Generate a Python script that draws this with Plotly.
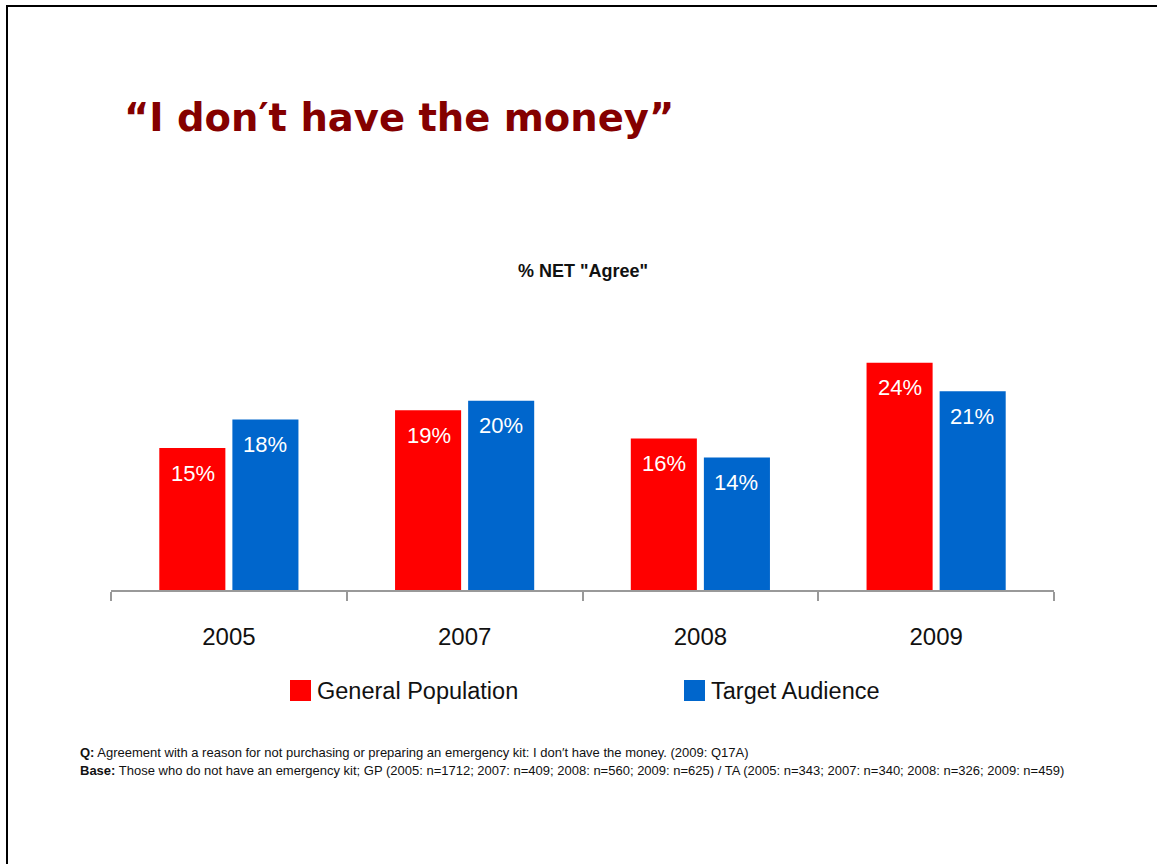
import plotly.graph_objects as go

# Survey results: % NET "Agree" with "I don't have the money"
years = ["2005", "2007", "2008", "2009"]
series_names = ["General Population", "Target Audience"]
general_population = [15, 19, 16, 24]
target_audience = [18, 20, 14, 21]
series_values = [general_population, target_audience]
series_colors = ["#FF0000", "#0066CC"]

NARROW = "Liberation Sans Narrow, Arial Narrow, Liberation Sans, Arial, sans-serif"
WIDE = "DejaVu Sans, Verdana, sans-serif"

# plot-area pixel frame
PL, PR, PT, PB = 111, 1054, 306, 590
W, H = 1157, 864


def px_x(x):
    return (x - PL) / (PR - PL)


def px_y(y):
    return (PB - y) / (PB - PT)


fig = go.Figure()
for name, vals, col in zip(series_names, series_values, series_colors):
    fig.add_trace(go.Bar(
        x=years, y=vals, name=name, marker=dict(color=col, line=dict(width=0)),
        showlegend=False, hoverinfo="skip",
    ))

# value labels placed just inside the top of each bar (category index positions)
offsets = [-36, 36]
for vals, dx in zip(series_values, offsets):
    for i, v in enumerate(vals):
        fig.add_annotation(
            x=i, y=v, xref="x", yref="y", text=f"{v}%", showarrow=False,
            xshift=dx, yshift=-25, yanchor="middle",
            font=dict(family=NARROW, size=22, color="white"),
        )

# legend swatches and names
legend_x = [290, 684]
for name, col, lx in zip(series_names, series_colors, legend_x):
    fig.add_shape(type="rect", xref="paper", yref="paper",
                  x0=px_x(lx), x1=px_x(lx + 21),
                  y0=px_y(701), y1=px_y(680),
                  fillcolor=col, line=dict(width=0))
    fig.add_annotation(xref="paper", yref="paper",
                       x=px_x(lx + 25), y=px_y(690.5),
                       xanchor="left", yanchor="middle", showarrow=False, text=name,
                       font=dict(family=NARROW, size=23.5, color="#111111"))

# slide border (left and top edges)
fig.add_shape(type="line", xref="paper", yref="paper",
              x0=px_x(7), x1=px_x(7), y0=px_y(5), y1=px_y(870),
              line=dict(color="black", width=2))
fig.add_shape(type="line", xref="paper", yref="paper",
              x0=px_x(6), x1=px_x(1160), y0=px_y(6), y1=px_y(6),
              line=dict(color="black", width=2))

# title
fig.add_annotation(xref="paper", yref="paper", x=px_x(122), y=px_y(117),
                   xanchor="left", yanchor="middle", showarrow=False,
                   text="<b>\u201cI don\u2032t have the money\u201d</b>",
                   font=dict(family=WIDE, size=38.5, color="#840000"))

# chart subtitle
fig.add_annotation(xref="paper", yref="paper", x=px_x(583), y=px_y(271),
                   xanchor="center", yanchor="middle", showarrow=False,
                   text='<b>% NET "Agree"</b>',
                   font=dict(family=NARROW, size=18, color="#111111"))

# footnotes
fig.add_annotation(xref="paper", yref="paper", x=px_x(78), y=px_y(752),
                   xanchor="left", yanchor="middle", showarrow=False,
                   text="<b>Q:</b> Agreement with a reason for not purchasing or preparing an emergency kit: I don\u2032t have the money. (2009: Q17A)",
                   font=dict(family=NARROW, size=13, color="#111111"))
fig.add_annotation(xref="paper", yref="paper", x=px_x(78), y=px_y(770),
                   xanchor="left", yanchor="middle", showarrow=False,
                   text="<b>Base:</b> Those who do not have an emergency kit; GP (2005: n=1712; 2007: n=409; 2008: n=560; 2009: n=625) / TA (2005: n=343; 2007: n=340; 2008: n=326; 2009: n=459)",
                   font=dict(family=NARROW, size=13, color="#111111"))

fig.update_layout(
    width=W, height=H,
    margin=dict(l=PL, r=W - PR, t=PT, b=H - PB, pad=0),
    paper_bgcolor="white", plot_bgcolor="white",
    barmode="group", bargap=0.38, bargroupgap=0.096,
    showlegend=False,
    xaxis=dict(
        type="category", range=[-0.5, 3.5], autorange=False,
        showline=True, linecolor="#999999", linewidth=1.5,
        ticks="outside", tickson="boundaries", ticklen=9, tickcolor="#999999",
        tickwidth=1.5, showgrid=False, zeroline=False, tickangle=0,
        ticklabelstandoff=24,
        tickfont=dict(family=NARROW, size=24, color="#111111"),
    ),
    yaxis=dict(range=[0, 30], visible=False, showgrid=False, zeroline=False),
)

fig.write_html("out.html")
